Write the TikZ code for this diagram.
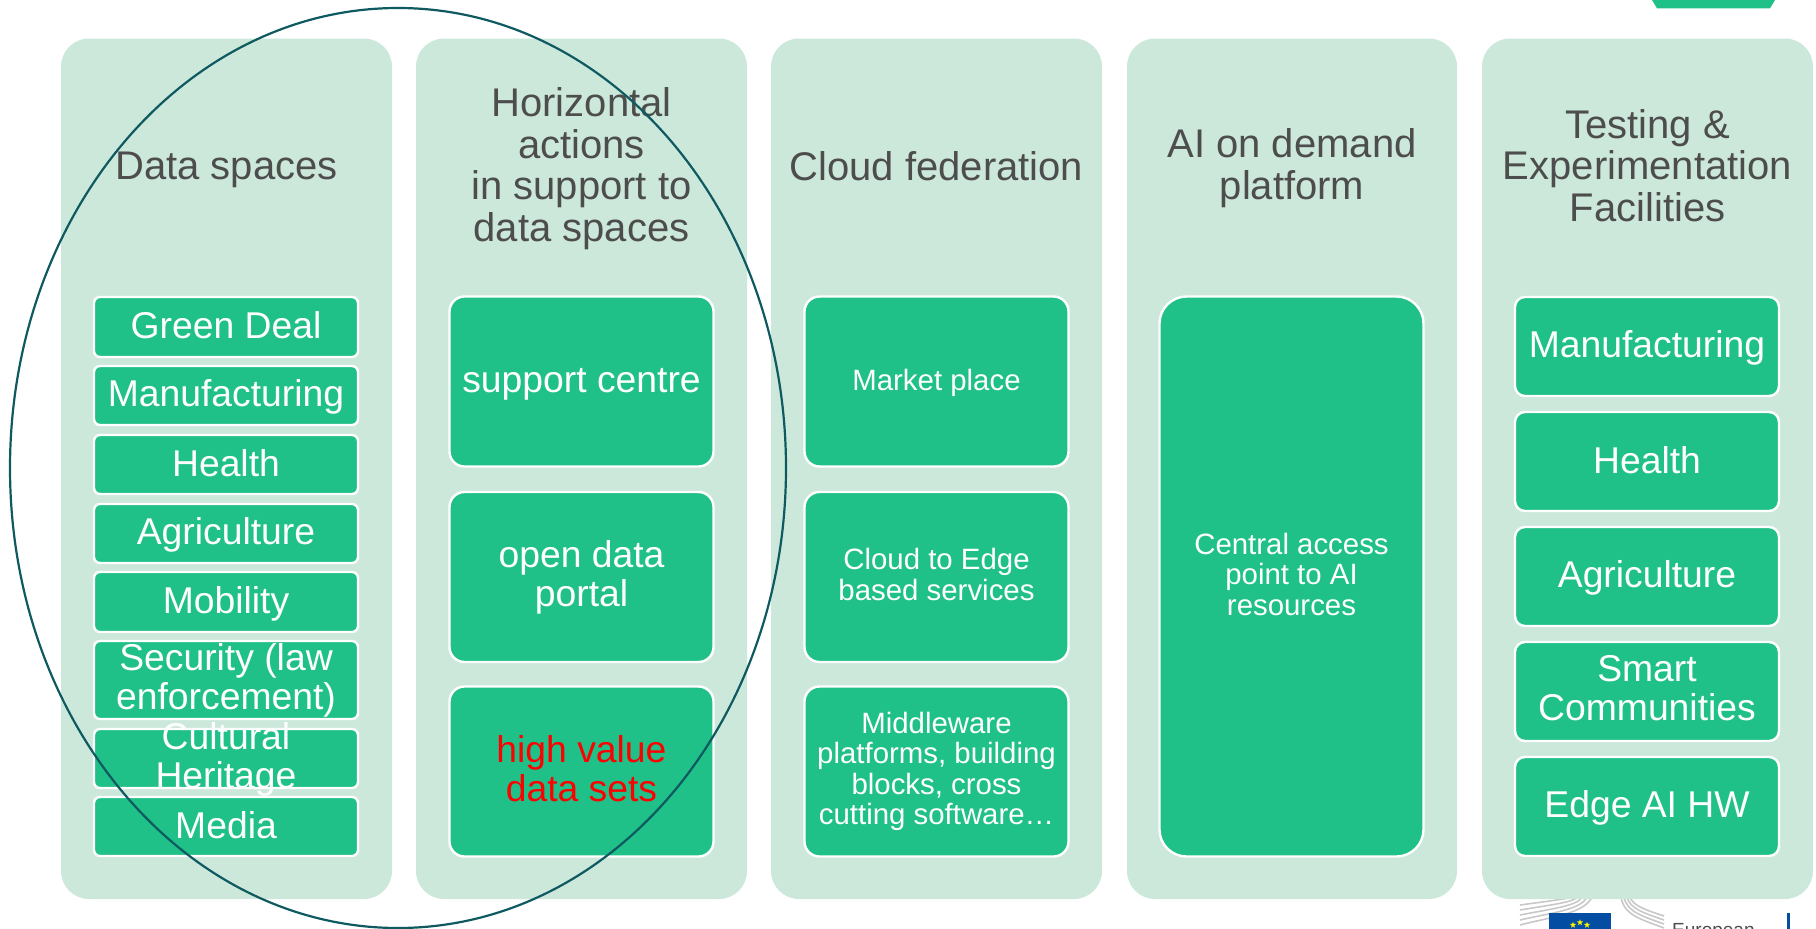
\documentclass[tikz,border=0pt]{standalone}
\usepackage{fontspec}
\setmainfont{Liberation Sans}
\usetikzlibrary{shapes.geometric}
\definecolor{panelgreen}{HTML}{CCE8DB}
\definecolor{boxgreen}{HTML}{1FC188}
\definecolor{titlegrey}{HTML}{4D4D4D}
\definecolor{ringteal}{HTML}{0E5A60}
\definecolor{eublue}{HTML}{034EA2}
\definecolor{stripegrey}{HTML}{C8C8C8}
\newcommand{\sz}[2]{\fontsize{#1}{#2}\selectfont}
\newcommand{\ls}{\rule[-.18em]{0pt}{1em}}
\newcommand{\spill}[2]{\raisebox{2.7pt}{\smash{\begin{tabular}{@{}c@{}}#1\\#2\end{tabular}}}}
\tikzset{
  panel/.style={fill=panelgreen, rounded corners=28pt, inner sep=0pt},
  title/.style={text=titlegrey, align=center, font=\sz{40}{41.5}, execute at begin node=\ls, execute at end node=\ls},
  bigbox/.style={fill=boxgreen, draw=white, line width=2.4pt, rounded corners=15pt, text=white, align=center, inner sep=0pt, font=\sz{37.3}{39}, execute at begin node=\ls, execute at end node=\ls},
  thinbox/.style={bigbox, rounded corners=6pt},
  midbox/.style={bigbox, rounded corners=10pt},
  smallbox/.style={bigbox, font=\sz{29.4}{30.5}}
}
\begin{document}
\begin{tikzpicture}[x=1pt,y=-1pt]
\useasboundingbox (0,0) rectangle (1816,929);

% logo, cut by the page edge
\foreach \i in {0,...,4}
  \draw[stripegrey, line width=1.6pt] (1520,905+5*\i) .. controls (1550,901+4*\i) and (1572+3*\i,898+4*\i) .. (1572+5*\i,897);
\foreach \i in {0,...,3}
  \draw[stripegrey, line width=1.6pt] (1621+3*\i,897) .. controls (1624+3*\i,915-3*\i) and (1640+2*\i,919-3*\i) .. (1664,928-4*\i);
\fill[eublue] (1549,913) rectangle (1611,929);
\foreach \sx/\sy/\name in {1573/925/sa,1580/922.5/sb,1587/925/sc}
  \node (\name) [star, star points=5, star point ratio=2.4, fill=yellow, inner sep=0pt, minimum size=6.5pt] at (\sx,\sy) {};
\node (eutext) [text=titlegrey, anchor=base west, inner sep=0pt, font=\sz{19}{20}] at (1672,936) {European};
\fill[eublue] (1787,913) rectangle (1790,929);

% background panels
\foreach \xa/\xb in {61/392,416/747,771/1102,1127/1457,1482/1813}
  \path[panel] (\xa,38.5) rectangle (\xb,899);

% corner tab
\fill[boxgreen] (1652,0) -- (1657,8.3) -- (1770,8.3) -- (1775,0) -- cycle;

% titles
\node (tdata) [title] at (226.5,167.7) {Data spaces};
\node (thoriz) [title] at (581.5,168.9) {Horizontal\\actions\\in support to\\data spaces};
\node (tcloud) [title] at (936.5,167.7) {Cloud federation};
\node (tai) [title] at (1292,168.4) {AI on demand\\platform};
\node (ttest) [title] at (1647.5,168.7) {Testing \&\\Experimentation\\Facilities};

% data spaces
\foreach \ya/\yb/\lbl/\id in {297/357/Green Deal/d1,366/425/Manufacturing/d2,435/494/Health/d3,504/563/Agriculture/d4,572/632/Mobility/d5,641/719/Security (law\\enforcement)/d6,729/788/{\spill{Cultural}{Heritage}}/d7,797/856/Media/d8}
  \node (\id) [thinbox, minimum width=264pt, minimum height=\yb pt-\ya pt] at (226,{(\ya+\yb)/2}) {\lbl};

% horizontal actions
\node (h1) [bigbox, minimum width=264pt, minimum height=170pt] at (581.5,381.5) {support centre};
\node (h2) [bigbox, minimum width=264pt, minimum height=170pt] at (581.5,577) {open data\\portal};
\node (h3) [bigbox, minimum width=264pt, minimum height=170pt, text=red] at (581.5,771.5) {high value\\data sets};

% cloud federation
\node (c1) [smallbox, minimum width=264pt, minimum height=170pt] at (936.5,381.5) {Market place};
\node (c2) [smallbox, minimum width=264pt, minimum height=170pt] at (936.5,577) {Cloud to Edge\\based services};
\node (c3) [smallbox, minimum width=264pt, minimum height=170pt] at (936.5,771.5) {Middleware\\platforms, building\\blocks, cross\\cutting software…};

% AI platform
\node (a1) [smallbox, minimum width=264pt, minimum height=560pt, rounded corners=27pt] at (1291.5,576.5) {Central access\\point to AI\\resources};

% testing facilities
\foreach \ya/\yb/\lbl/\id in {297/396/Manufacturing/t1,412/511/Health/t2,527/626/Agriculture/t3,642/741/Smart\\Communities/t4,757/856/Edge AI HW/t5}
  \node (\id) [midbox, minimum width=264pt, minimum height=\yb pt-\ya pt] at (1647,{(\ya+\yb)/2}) {\lbl};

% ring round the first two panels
\node (ring) [ellipse, draw=ringteal, line width=2.2pt, minimum width=776pt, minimum height=920pt, inner sep=0pt] at (398,468) {};
\end{tikzpicture}
\end{document}
